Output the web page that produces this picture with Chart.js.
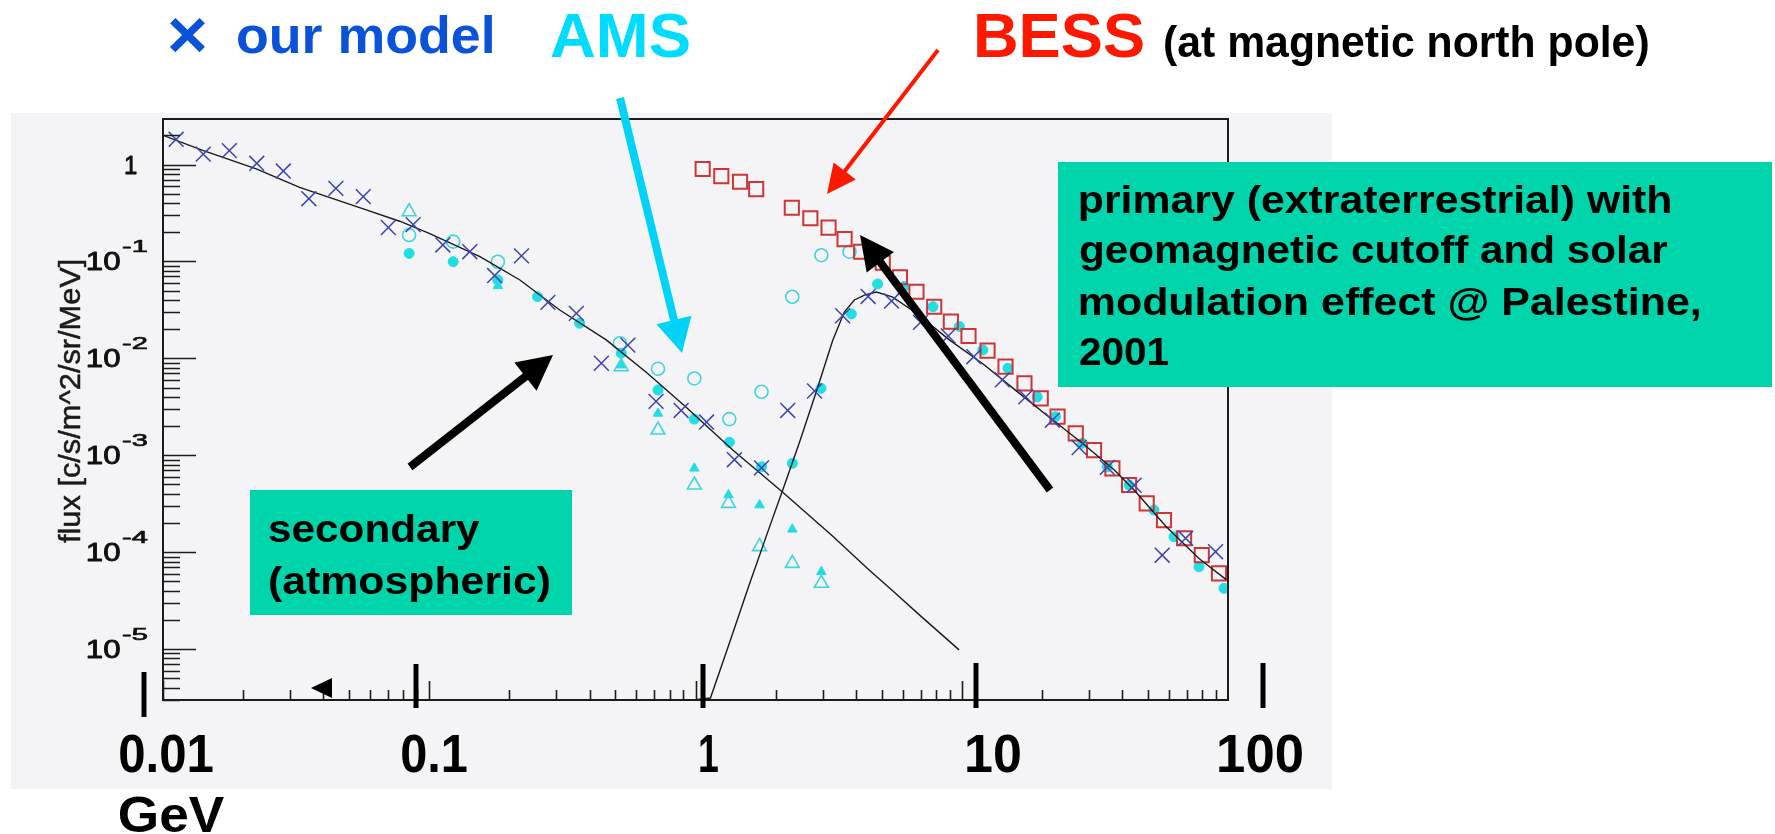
<!DOCTYPE html>
<html><head><meta charset="utf-8">
<script src="https://cdn.jsdelivr.net/npm/chart.js@4.4.1/dist/chart.umd.min.js"></script>
<style>html,body{margin:0;padding:0;background:#fff;}canvas{display:block;}</style>
</head><body>
<canvas id="c" width="1775" height="834" style="width:1775px;height:834px"></canvas>
<script>
// ---------------- data ----------------
const modelX = [0.0112,0.01416,0.01775,0.0225,0.0283,0.0353,0.0446,0.0565,0.0702,0.087,0.1125,0.142,0.176,0.222,0.279,0.357,0.443,0.557,0.711,0.883,1.10,1.40,1.77,2.22,2.8,3.57,4.45,5.45,7.0,8.9,11.1,14.2,17.4,21.9,27.6,35.2,44.4,56.6,69.3,89.8];
const modelY = [1.82,1.28,1.39,1.03,0.857,0.444,0.568,0.466,0.224,0.24,0.148,0.126,0.0715,0.114,0.0378,0.0291,0.0089,0.0137,0.0036,0.0029,0.0022,0.0009,0.00074,0.0029,0.0046,0.0275,0.0435,0.039,0.0235,0.017,0.0104,0.006,0.004,0.0023,0.0012,0.00075,0.00049,9.3e-5,0.000139,0.000101];

const bessX = [1.064,1.25,1.47,1.69,2.30,2.70,3.16,3.63,4.19,5.05,5.86,6.76,7.88,9.1,10.6,12.5,14.6,17.2,19.8,22.9,26.8,31.4,36.8,42.5,49.5,57.5,68.4,79.7,92.5];
const bessY = [0.90,0.76,0.665,0.558,0.358,0.279,0.223,0.17,0.126,0.097,0.0686,0.0487,0.0341,0.0239,0.017,0.012,0.0082,0.00552,0.00386,0.0025,0.00168,0.00113,0.000732,0.000493,0.000319,0.000214,0.000139,9.33e-5,6.04e-5];

const amsFilledCircleX = [0.084,0.123,0.181,0.255,0.367,0.526,0.723,0.99,1.34,1.77,2.31,2.96,3.85,4.83,6.08,7.8,9.8,12.0,14.9,19.2,22.5,28.4,35.2,42.5,52.7,62.7,77.8,96.6];
const amsFilledCircleY = [0.121,0.0993,0.0643,0.0432,0.023,0.0113,0.00471,0.00236,0.00136,0.00076,0.000825,0.0049,0.0287,0.0585,0.0551,0.0341,0.0213,0.0122,0.0079,0.004,0.0025,0.00133,0.00076,0.000493,0.000272,0.000144,7.06e-5,4.23e-5];

const amsOpenCircleX = [0.084,0.123,0.181,0.52,0.723,0.99,1.34,1.77,2.31,2.97,3.79];
const amsOpenCircleY = [0.187,0.16,0.0993,0.0143,0.0078,0.0062,0.00236,0.00452,0.0432,0.116,0.126];

const amsOpenTriangleX = [0.084,0.526,0.723,0.99,1.33,1.74,2.31,2.97];
const amsOpenTriangleY = [0.326,0.0082,0.00182,0.000493,0.000319,0.000114,7.66e-5,4.77e-5];

const amsFilledTriangleX = [0.181,0.526,0.723,0.99,1.33,1.74,2.31,2.97];
const amsFilledTriangleY = [0.056,0.0085,0.0027,0.000733,0.000389,0.000306,0.000172,6.28e-5];

const secondaryX = [0.01,0.0141,0.0224,0.0326,0.058,0.0774,0.1,0.155,0.219,0.309,0.462,0.653,0.914,1.38,2.1,3.27,4.5,5.5,7.0,9.77];
const secondaryY = [2.0,1.4,0.9,0.58,0.34,0.26,0.195,0.112,0.0643,0.0315,0.0155,0.0072,0.0032,0.00113,0.000427,0.000147,6.5e-5,4.0e-5,2.2e-5,9.8e-6];

const primaryX = [1.0,1.138,1.34,1.59,1.89,2.12,2.46,2.84,3.27,3.62,3.95,4.31,4.78,5.48,6.75,8.98,12,15.9,21.2,28.4,37.5,45,58.4,77.8,98.5];
const primaryY = [3.0e-6,3.12e-6,1.15e-5,4.57e-5,1.77e-4,4.27e-4,1.37e-3,4.49e-3,0.0151,0.030,0.040,0.045,0.0483,0.043,0.0294,0.0155,0.0088,0.0047,0.0025,0.00133,0.0007,0.00042,0.000185,8.6e-5,5.2e-5];

const yTickValues = [1,0.1,0.01,0.001,1e-4,1e-5];
const yTickExponents = [0,-1,-2,-3,-4,-5];
const xTickLabels = ['0.01','0.1','1','10','100'];
const xUnitLabel = 'GeV';
const yTitle = 'flux [c/s/m^2/sr/MeV]';

// ---------------- helpers ----------------
const FONT = '"Liberation Sans", Arial, Helvetica, sans-serif';
const zip = (xs, ys) => xs.map((x, i) => ({x: x, y: ys[i]}));

function inkText(ctx, str, left, baseline, size, width, color, weight, strokeW) {
  ctx.save();
  ctx.font = (weight || 'bold') + ' ' + size + 'px ' + FONT;
  ctx.textAlign = 'left';
  ctx.textBaseline = 'alphabetic';
  const m = ctx.measureText(str);
  const inkW = m.actualBoundingBoxLeft + m.actualBoundingBoxRight;
  const sx = width ? width / inkW : 1;
  ctx.translate(left, baseline);
  ctx.scale(sx, 1);
  ctx.fillStyle = color;
  ctx.fillText(str, m.actualBoundingBoxLeft, 0);
  if (strokeW) {
    ctx.strokeStyle = color; ctx.lineWidth = strokeW; ctx.lineJoin = 'round';
    ctx.strokeText(str, m.actualBoundingBoxLeft, 0);
  }
  ctx.restore();
}
function inkBox(ctx, str, l, t, r, b, size, color) {
  ctx.save();
  ctx.font = 'bold ' + size + 'px ' + FONT;
  ctx.textAlign = 'left';
  ctx.textBaseline = 'alphabetic';
  const m = ctx.measureText(str);
  const w = m.actualBoundingBoxLeft + m.actualBoundingBoxRight;
  const h = m.actualBoundingBoxAscent + m.actualBoundingBoxDescent;
  ctx.translate(l, t);
  ctx.scale((r - l) / w, (b - t) / h);
  ctx.fillStyle = color;
  ctx.fillText(str, m.actualBoundingBoxLeft, m.actualBoundingBoxAscent);
  ctx.restore();
}
function arrow(ctx, x1, y1, x2, y2, lw, hl, hw, color) {
  const dx = x2 - x1, dy = y2 - y1, L = Math.hypot(dx, dy), ux = dx / L, uy = dy / L;
  const bx = x2 - ux * hl, by = y2 - uy * hl;
  ctx.save();
  ctx.strokeStyle = color; ctx.fillStyle = color; ctx.lineWidth = lw; ctx.lineCap = 'butt';
  ctx.beginPath(); ctx.moveTo(x1, y1); ctx.lineTo(bx + ux * 3, by + uy * 3); ctx.stroke();
  ctx.beginPath(); ctx.moveTo(x2, y2);
  ctx.lineTo(bx - uy * hw, by + ux * hw);
  ctx.lineTo(bx + uy * hw, by - ux * hw);
  ctx.closePath(); ctx.fill();
  ctx.restore();
}

// ---------------- plugins ----------------
const backgroundPlugin = {
  id: 'bg',
  beforeDraw(chart) {
    const ctx = chart.ctx;
    ctx.save();
    ctx.fillStyle = '#ffffff';
    ctx.fillRect(0, 0, chart.width, chart.height);
    ctx.fillStyle = '#f4f3f6';
    ctx.fillRect(11, 113, 1321, 676);
    ctx.restore();
  }
};

const rootAxesPlugin = {
  id: 'rootAxes',
  afterDatasetsDraw(chart) {
    const ctx = chart.ctx, a = chart.chartArea;
    const xs = chart.scales.x, ys = chart.scales.y;
    ctx.save();
    ctx.strokeStyle = '#1c1c1c';
    ctx.lineWidth = 2;
    ctx.strokeRect(a.left, a.top, a.right - a.left, a.bottom - a.top);
    ctx.lineWidth = 1.6;
    ctx.beginPath();
    for (let d = -6; d <= 0; d++) {
      for (let k = 1; k <= 9; k++) {
        const v = k * Math.pow(10, d);
        if (v < ys.min || v > ys.max) continue;
        const py = Math.round(ys.getPixelForValue(v)) + 0.5;
        const len = k === 1 ? 33 : 17;
        ctx.moveTo(a.left, py); ctx.lineTo(a.left + len, py);
      }
    }
    for (let d = -2; d <= 1; d++) {
      for (let k = 1; k <= 9; k++) {
        const v = k * Math.pow(10, d);
        if (v < xs.min * 0.999 || v > xs.max) continue;
        const px = Math.round(xs.getPixelForValue(v)) + 0.5;
        const len = k === 1 ? 19 : 10;
        ctx.moveTo(px, a.bottom); ctx.lineTo(px, a.bottom - len);
      }
    }
    ctx.stroke();
    ctx.restore();

    // y tick labels (ROOT style, 10 with superscript)
    yTickValues.forEach((v, i) => {
      const py = ys.getPixelForValue(v);
      const e = yTickExponents[i];
      if (e === 0) {
        inkText(ctx, '1', 125, py + 9, 26, 12, '#111', 'normal', 0.9);
      } else {
        inkText(ctx, '10', 87, py + 9, 26, 33, '#111', 'normal', 0.9);
        inkText(ctx, '-' + Math.abs(e), 122, py - 9, 17, 25, '#111', 'normal', 0.7);
      }
    });
    // y title
    ctx.save();
    ctx.translate(80, 401);
    ctx.rotate(-Math.PI / 2);
    inkText(ctx, yTitle, -142, 0, 30, 283, '#1a1a1a', 'normal', 0.5);
    ctx.restore();
  }
};

const overlayPlugin = {
  id: 'overlay',
  afterDraw(chart) {
    const ctx = chart.ctx;
    // green boxes
    ctx.save();
    ctx.fillStyle = '#00d4aa';
    ctx.fillRect(250, 490, 322, 125);
    ctx.fillRect(1058, 162, 714, 225);
    ctx.restore();
    inkText(ctx, 'secondary', 269, 542, 39, 211, '#000');
    inkText(ctx, '(atmospheric)', 269, 594, 39, 281, '#000');
    inkText(ctx, 'primary (extraterrestrial) with', 1080, 213, 38, 590, '#000');
    inkText(ctx, 'geomagnetic cutoff and solar', 1080, 263, 38, 588, '#000');
    inkText(ctx, 'modulation effect @ Palestine,', 1080, 315, 38, 620, '#000');
    inkText(ctx, '2001', 1080, 365, 38, 89, '#000');

    // header legend texts
    inkBox(ctx, '\u00d7', 169, 17, 205, 53, 70, '#0a53d8');
    inkText(ctx, 'our model', 238, 53, 52, 254, '#0a53d8');
    inkText(ctx, 'AMS', 551, 57, 63, 138, '#00dcff');
    inkText(ctx, 'BESS', 977, 57, 63, 166, '#ff1800');
    inkText(ctx, '(at magnetic north pole)', 1165, 57, 44, 483, '#000');

    // arrows
    arrow(ctx, 620, 98, 682, 353, 8, 34, 18, '#00d2f8');
    arrow(ctx, 938, 50, 827, 194, 4, 29, 14, '#ff1800');
    arrow(ctx, 410, 467, 553, 355, 8, 35, 18, '#000');
    arrow(ctx, 1050, 490, 860, 235, 8, 34, 17, '#000');

    // big hand-drawn decade bars + labels
    ctx.save();
    ctx.fillStyle = '#000';
    [[144, 672, 717], [416, 664, 708], [703, 664, 708], [976, 663, 708], [1263, 663, 708]].forEach(b => {
      ctx.fillRect(b[0] - 2.5, b[1], 5, b[2] - b[1]);
    });
    // small left-pointing marker on the axis
    ctx.beginPath();
    ctx.moveTo(311, 688); ctx.lineTo(332, 678); ctx.lineTo(332, 698); ctx.closePath(); ctx.fill();
    ctx.restore();
    const labelPos = [[120, 93], [402, 65], [700, 18], [967, 53], [1219, 83]];
    xTickLabels.forEach((t, i) => inkText(ctx, t, labelPos[i][0], 772, 54, labelPos[i][1], '#000'));
    inkText(ctx, xUnitLabel, 120, 832, 50, 105, '#000');
  }
};

// ---------------- chart ----------------
const CYAN = '#22dde4';
const CYAN_OPEN = '#3fd5dc';
new Chart(document.getElementById('c'), {
  type: 'scatter',
  data: {
    datasets: [
      { label: 'our model', data: zip(modelX, modelY), pointStyle: 'crossRot', pointRadius: 10.5,
        pointBorderColor: '#3d44aa', pointBackgroundColor: '#3d44aa', pointBorderWidth: 1.5, order: 1 },
      { label: 'secondary', data: zip(secondaryX, secondaryY), showLine: true, borderColor: '#1a1a1a',
        borderWidth: 1.4, pointRadius: 0, order: 2 },
      { label: 'primary', data: zip(primaryX, primaryY), showLine: true, borderColor: '#1a1a1a',
        borderWidth: 1.4, pointRadius: 0, order: 2 },
      { label: 'BESS', data: zip(bessX, bessY), pointStyle: 'rect', pointRadius: 10,
        pointBorderColor: '#cc3636', pointBackgroundColor: 'rgba(0,0,0,0)', pointBorderWidth: 2, order: 3 },
      { label: 'AMS open circle', data: zip(amsOpenCircleX, amsOpenCircleY), pointStyle: 'circle', pointRadius: 6.5,
        pointBorderColor: CYAN_OPEN, pointBackgroundColor: 'rgba(0,0,0,0)', pointBorderWidth: 1.6, order: 4 },
      { label: 'AMS open triangle', data: zip(amsOpenTriangleX, amsOpenTriangleY), pointStyle: 'triangle', pointRadius: 8,
        pointBorderColor: CYAN_OPEN, pointBackgroundColor: 'rgba(0,0,0,0)', pointBorderWidth: 1.6, order: 4 },
      { label: 'AMS filled circle', data: zip(amsFilledCircleX, amsFilledCircleY), pointStyle: 'circle', pointRadius: 5,
        pointBorderColor: CYAN, pointBackgroundColor: CYAN, pointBorderWidth: 1, order: 5 },
      { label: 'AMS filled triangle', data: zip(amsFilledTriangleX, amsFilledTriangleY), pointStyle: 'triangle', pointRadius: 5.5,
        pointBorderColor: CYAN, pointBackgroundColor: CYAN, pointBorderWidth: 1, order: 5 }
    ]
  },
  options: {
    responsive: false,
    animation: false,
    devicePixelRatio: 1,
    events: [],
    layout: { padding: { left: 163, top: 119, right: 1775 - 1228, bottom: 834 - 700 } },
    scales: {
      x: { type: 'logarithmic', min: 0.01, max: 100, display: false },
      y: { type: 'logarithmic', min: 2.98e-6, max: 2.95, display: false }
    },
    plugins: { legend: { display: false }, tooltip: { enabled: false } }
  },
  plugins: [backgroundPlugin, rootAxesPlugin, overlayPlugin]
});
</script>
</body></html>
